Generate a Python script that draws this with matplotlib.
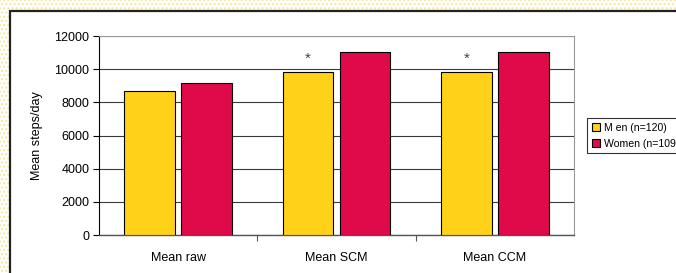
import matplotlib
matplotlib.use("Agg")
import matplotlib.pyplot as plt
import numpy as np
from matplotlib.patches import Rectangle

plt.rcParams['font.family'] = ['Liberation Sans', 'DejaVu Sans']

# Data
categories = ["Mean raw", "Mean SCM", "Mean CCM"]
men = [8700, 9850, 9820]
women = [9170, 11020, 11020]
significant = [False, True, True]
series_labels = ["M en (n=120)", "Women (n=109)"]

yellow = "#FFD219"
red = "#E0094A"

fig = plt.figure(figsize=(6.76, 2.73), dpi=100)
W, H = 676, 273

# page background with dotted pattern
bg = Rectangle((0, 0), 1, 1, transform=fig.transFigure, facecolor="white",
               edgecolor="#F8E59A", hatch="....", linewidth=0, zorder=-10)
fig.patches.append(bg)
frame = Rectangle((10 / W, -0.1), 1.0, 1 - 11 / H + 0.1, transform=fig.transFigure,
                  facecolor="white", edgecolor="#222222", linewidth=1.6, zorder=-9)
fig.patches.append(frame)

ax = fig.add_axes([99 / W, 1 - 235 / H, 475 / W, 199 / H])
ax.set_facecolor("none")

x = np.arange(len(categories))
off = 0.18
bw = 0.32
ax.bar(x - off, men, bw, color=yellow, edgecolor="black", linewidth=0.8,
       label=series_labels[0], zorder=3)
ax.bar(x + off, women, bw, color=red, edgecolor="black", linewidth=0.8,
       label=series_labels[1], zorder=3)

for xi, m, sig in zip(x, men, significant):
    if sig:
        ax.text(xi - off, 10650, "*", ha="center", va="center", fontsize=11,
                color="#444444")

ax.set_xlim(-0.5, 2.5)
ax.set_ylim(0, 12000)
ax.set_yticks(np.arange(0, 12001, 2000))
ax.yaxis.grid(True, color="#3a3a3a", linewidth=0.8, zorder=1)
ax.set_axisbelow(True)
ax.tick_params(axis="y", labelsize=9, length=4, width=0.8, pad=3, color="black")

ax.set_xticks(x)
ax.set_xticklabels(categories)
ax.set_xticks([0.5, 1.5], minor=True)
ax.tick_params(axis="x", which="major", length=0, pad=12, labelsize=9)
ax.tick_params(axis="x", which="minor", length=4, width=0.8, color="#555555")

for side in ["top", "right"]:
    ax.spines[side].set_color("#999999")
    ax.spines[side].set_linewidth(0.8)
ax.spines["left"].set_color("black")
ax.spines["left"].set_linewidth(0.8)
ax.spines["bottom"].set_color("#555555")
ax.spines["bottom"].set_linewidth(1.0)

ax.set_ylabel("Mean steps/day", fontsize=9)
ax.yaxis.set_label_coords(-56 / 475, 0.5)

leg = ax.legend(loc="upper left", bbox_to_anchor=(587 / W, 1 - 118 / H),
                bbox_transform=fig.transFigure, fontsize=7.6, frameon=True,
                fancybox=False, edgecolor="black", handlelength=0.8,
                handleheight=0.8, handletextpad=0.4, borderpad=0.45,
                labelspacing=0.55, borderaxespad=0)
leg.get_frame().set_linewidth(0.8)

fig.savefig("out.png", dpi=100)
